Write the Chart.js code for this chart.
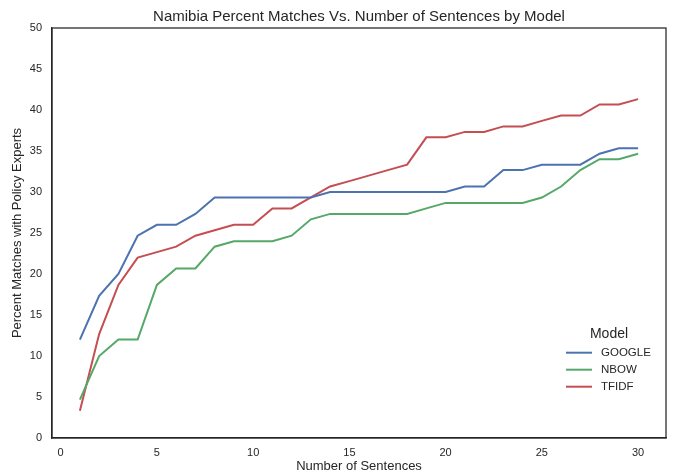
<!DOCTYPE html>
<html>
<head>
<meta charset="utf-8">
<script src="https://cdn.jsdelivr.net/npm/chart.js@4/dist/chart.umd.min.js"></script>
<style>
  html, body { margin: 0; padding: 0; background: #fff; }
  #wrap { width: 673px; height: 474px; position: relative; }
</style>
</head>
<body>
<div id="wrap"><canvas id="chart"></canvas></div>
<script>
// values (percent matches per number of sentences)
var sentences = [1,2,3,4,5,6,7,8,9,10,11,12,13,14,15,16,17,18,19,20,21,22,23,24,25,26,27,28,29,30];
var google = [12.00,17.33,20.00,24.67,26.00,26.00,27.33,29.33,29.33,29.33,29.33,29.33,29.33,30.00,30.00,
              30.00,30.00,30.00,30.00,30.00,30.67,30.67,32.67,32.67,33.33,33.33,33.33,34.67,35.33,35.33];
var nbow = [4.67,10.00,12.00,12.00,18.67,20.67,20.67,23.33,24.00,24.00,24.00,24.67,26.67,27.33,27.33,
            27.33,27.33,27.33,28.00,28.67,28.67,28.67,28.67,28.67,29.33,30.67,32.67,34.00,34.00,34.67];
var tfidf = [3.33,12.67,18.67,22.00,22.67,23.33,24.67,25.33,26.00,26.00,28.00,28.00,29.33,30.67,31.33,
             32.00,32.67,33.33,36.67,36.67,37.33,37.33,38.00,38.00,38.67,39.33,39.33,40.67,40.67,41.33];
var models = ['GOOGLE', 'NBOW', 'TFIDF'];
var xTicks = [0,5,10,15,20,25,30];
var yTicks = [0,5,10,15,20,25,30,35,40,45,50];

var FONT = 'Arial, "Liberation Sans", sans-serif';
var INK = '#262626';
var colors = ['#4C72B0', '#55A868', '#C44E52'];

function pairs(vals) {
    return sentences.map(function(s, i) { return { x: s, y: vals[i] }; });
}

// frame, title and the in-axes legend (matplotlib style)
var decor = {
    id: 'decor',
    afterDraw: function(chart) {
        var ctx = chart.ctx, a = chart.chartArea;
        ctx.save();
        ctx.strokeStyle = INK;
        ctx.lineWidth = 1.25;
        ctx.strokeRect(a.left, a.top, a.right - a.left, a.bottom - a.top);

        ctx.fillStyle = INK;
        ctx.textAlign = 'center';
        ctx.textBaseline = 'middle';
        ctx.font = '15px ' + FONT;
        ctx.fillText('Namibia Percent Matches Vs. Number of Sentences by Model', (a.left + a.right) / 2, 17);

        // legend
        ctx.font = '14px ' + FONT;
        ctx.fillText('Model', a.right - 57, 334);
        ctx.font = '11.5px ' + FONT;
        ctx.textAlign = 'left';
        chart.data.datasets.forEach(function(ds, i) {
            var y = 352.7 + i * 17;
            ctx.strokeStyle = ds.borderColor;
            ctx.lineWidth = 2;
            ctx.beginPath();
            ctx.moveTo(a.right - 100, y);
            ctx.lineTo(a.right - 74, y);
            ctx.stroke();
            ctx.fillText(ds.label, a.right - 65, y);
        });
        ctx.restore();
    }
};

new Chart(document.getElementById('chart'), {
    type: 'line',
    data: {
        datasets: [
            { label: models[0], data: pairs(google), borderColor: colors[0] },
            { label: models[1], data: pairs(nbow), borderColor: colors[1] },
            { label: models[2], data: pairs(tfidf), borderColor: colors[2] }
        ]
    },
    options: {
        responsive: true,
        maintainAspectRatio: false,
        animation: false,
        devicePixelRatio: 1,
        layout: { padding: { top: 28, right: 7, left: 0, bottom: 0 } },
        elements: {
            line: { borderWidth: 2, tension: 0, fill: false },
            point: { radius: 0, hoverRadius: 0 }
        },
        plugins: { legend: { display: false }, title: { display: false }, tooltip: { enabled: false } },
        scales: {
            x: {
                type: 'linear',
                min: -0.45,
                max: 31.45,
                grid: { display: false, drawTicks: false },
                border: { display: true, color: INK, width: 1.25 },
                afterBuildTicks: function(s) { s.ticks = xTicks.map(function(v) { return { value: v }; }); },
                afterFit: function(s) { s.height = 36; },
                ticks: { color: INK, font: { size: 11, family: FONT }, padding: 8, maxRotation: 0 },
                title: { display: true, text: 'Number of Sentences', color: INK,
                         font: { size: 13, family: FONT }, padding: { top: 0, bottom: 0 } }
            },
            y: {
                type: 'linear',
                min: 0,
                max: 50,
                grid: { display: false, drawTicks: false },
                border: { display: true, color: INK, width: 1.25 },
                afterBuildTicks: function(s) { s.ticks = yTicks.map(function(v) { return { value: v }; }); },
                afterFit: function(s) { s.width = 52; },
                ticks: { color: INK, font: { size: 11, family: FONT }, padding: 10 },
                title: { display: true, text: 'Percent Matches with Policy Experts', color: INK,
                         font: { size: 13, family: FONT }, padding: { top: 10, bottom: 0 } }
            }
        }
    },
    plugins: [decor]
});
</script>
</body>
</html>
